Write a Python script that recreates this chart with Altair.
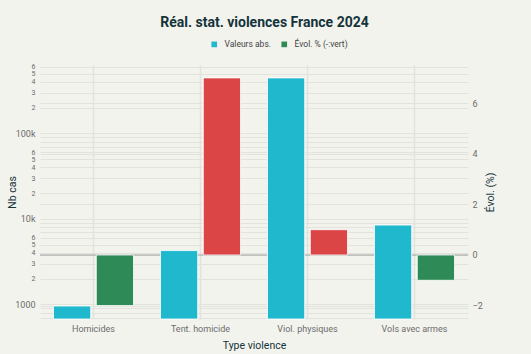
import altair as alt
import pandas as pd

categories = ["Homicides", "Tent. homicide", "Viol. physiques", "Vols avec armes"]
abs_values = [955, 4250, 445000, 8450]
evol_values = [-2.0, 7.0, 1.0, -1.0]
series = ["Valeurs abs.", "Évol. % (-:vert)"]
colors = ["#1FB8CD", "#2E8B57"]
pos_color = "#DB4545"

log_ticks = [700, 800, 900,
             1000, 2000, 3000, 4000, 5000, 6000, 7000, 8000, 9000,
             10000, 20000, 30000, 40000, 50000, 60000, 70000, 80000, 90000,
             100000, 200000, 300000, 400000, 500000, 600000]
evol_ticks = [-2, 0, 2, 4, 6]

df_abs = pd.DataFrame({"cat": categories, "val": abs_values, "serie": series[0]})
df_evol = pd.DataFrame({"cat": categories, "val": evol_values, "serie": series[1]})
df_zero = pd.DataFrame({"z": [0]})

BG = "#F3F3EE"
GRID = "#E3E3DE"
TXT = "#13343B"
LBL = "#6B6B6B"
FONT = "Liberation Sans Narrow, Roboto, sans-serif"

xenc = alt.X("cat:N", sort=categories,
             scale=alt.Scale(paddingInner=0.252, paddingOuter=0.126),
             axis=alt.Axis(title="Type violence", labelAngle=0, grid=True,
                           gridColor=GRID, gridWidth=1.5, ticks=False, domain=False,
                           labelPadding=5, labelFontSize=9, labelColor=LBL,
                           titleFontSize=10.5, titleColor=TXT, titleFontWeight="normal",
                           titlePadding=7))
xoff = alt.XOffset("serie:N", scale=alt.Scale(domain=series, paddingInner=0.13))
color_scale = alt.Scale(domain=series, range=colors)
legend = alt.Legend(title=None, orient="none", direction="horizontal", legendX=170, legendY=-25,
                    symbolType="square", symbolSize=32, labelFontSize=8.5, labelColor="#444444",
                    columnPadding=8, labelOffset=6, symbolStrokeWidth=0)

major = "datum.value == 1000 || datum.value == 10000 || datum.value == 100000"
tiny = "(datum.value >= 700 && datum.value <= 900) || (datum.value >= 7000 && datum.value <= 9000) || (datum.value >= 70000 && datum.value <= 90000)"

abs_chart = alt.Chart(df_abs).mark_bar(stroke="white", strokeWidth=1, strokeOpacity=0.8).encode(
    x=xenc,
    xOffset=xoff,
    y=alt.Y("val:Q", scale=alt.Scale(type="log", domain=[673, 630000], nice=False),
            axis=alt.Axis(orient="left", title="Nb cas", values=log_ticks,
                          labelExpr="datum.value == 1000 ? '1000' : datum.value == 10000 ? '10k' : datum.value == 100000 ? '100k' : (" + tiny + ") ? '' : substring(format(datum.value, 'd'), 0, 1)",
                          labelFontSize={"condition": {"test": major, "value": 9}, "value": 7},
                          labelOverlap=False, labelColor=LBL, ticks=False, domain=False,
                          labelPadding=5, grid=True, gridColor=GRID,
                          titleFontSize=10.5, titleColor=TXT, titleFontWeight="normal",
                          titleAngle=-90, titleBaseline="middle", titleX=-27.5, titleY=127)),
    y2=alt.Y2(datum=673),
    color=alt.Color("serie:N", scale=color_scale, legend=legend),
)

evol_bars = alt.Chart(df_evol).mark_bar(stroke="white", strokeWidth=1, strokeOpacity=0.8).encode(
    x=xenc,
    xOffset=xoff,
    y=alt.Y("val:Q", scale=alt.Scale(domain=[-2.53, 7.51], nice=False, zero=False),
            axis=alt.Axis(orient="right", title="Évol. (%)", values=evol_ticks,
                          labelColor=LBL, labelFontSize=9, ticks=False, domain=False,
                          labelPadding=4, grid=True, gridColor=GRID,
                          titleFontSize=10.5, titleColor=TXT, titleFontWeight="normal",
                          titleAngle=-90, titleBaseline="middle", titleX=22, titleY=127)),
    y2=alt.Y2(datum=0),
    color=alt.condition("datum.val > 0", alt.value(pos_color),
                        alt.Color("serie:N", scale=color_scale, legend=legend)),
)

zero_rule = alt.Chart(df_zero).mark_rule(color="#A0A0A0", strokeWidth=1.2).encode(y="z:Q")

right = alt.layer(zero_rule, evol_bars)

chart = alt.layer(right, abs_chart).resolve_scale(y="independent").properties(
    width=428, height=254,
    title=alt.TitleParams("Réal. stat. violences France 2024", fontSize=14, fontWeight="bold",
                          color=TXT, anchor="middle", dx=10.5, offset=10, font=FONT),
    autosize=alt.AutoSizeParams(type="none"),
    padding={"left": 40, "top": 65, "right": 63, "bottom": 35},
    background=BG,
).configure(font=FONT).configure_view(stroke=None)

chart.save("out.html", embed_options={"renderer": "svg", "actions": False})
